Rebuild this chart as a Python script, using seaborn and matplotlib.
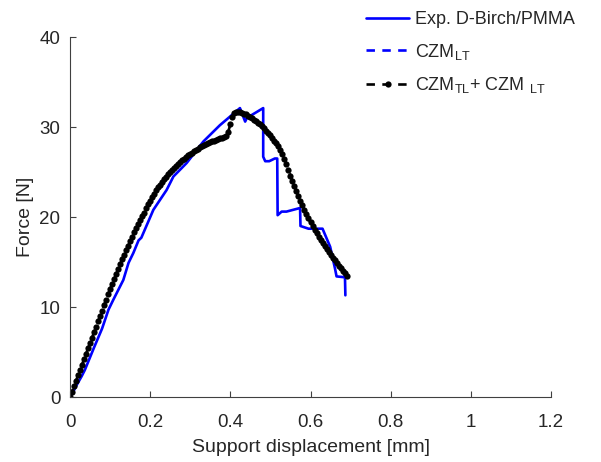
import matplotlib
matplotlib.use('Agg')
import numpy as np
import pandas as pd
import seaborn as sns
from matplotlib import pyplot as plt

# experimental curve (blue, solid)
disp_exp = [0, 0.006, 0.015, 0.029, 0.037, 0.06, 0.08, 0.096, 0.108, 0.133,
            0.146, 0.158, 0.171, 0.178, 0.208, 0.241, 0.258, 0.291, 0.333, 0.374,
            0.403, 0.424, 0.437, 0.441, 0.482, 0.482, 0.487, 0.497, 0.511, 0.517,
            0.518, 0.528, 0.540, 0.574, 0.575, 0.595, 0.630, 0.649, 0.661, 0.665,
            0.686, 0.687]
force_exp = [0, 0.4, 1.2, 2.3, 3.0, 5.5, 7.6, 9.7, 10.8, 13.0,
             14.9, 16.0, 17.4, 17.7, 20.8, 23.0, 24.5, 26.0, 28.4, 30.2,
             31.3, 32.1, 30.6, 31.0, 32.1, 26.7, 26.2, 26.2, 26.5, 26.5,
             20.2, 20.6, 20.6, 21.0, 19.0, 18.7, 18.7, 16.7, 14.3, 13.4,
             13.3, 11.3]

# CZM_TL + CZM_LT model (black, dashed with dots)
disp_czm = [0.000, 0.005, 0.010, 0.015, 0.020, 0.025, 0.030, 0.035, 0.040, 0.045,
            0.050, 0.055, 0.060, 0.065, 0.070, 0.075, 0.080, 0.085, 0.090, 0.095,
            0.100, 0.105, 0.110, 0.115, 0.120, 0.125, 0.130, 0.135, 0.140, 0.145,
            0.150, 0.155, 0.160, 0.165, 0.170, 0.175, 0.180, 0.185, 0.190, 0.195,
            0.200, 0.205, 0.210, 0.215, 0.220, 0.225, 0.230, 0.235, 0.240, 0.245,
            0.250, 0.255, 0.260, 0.265, 0.270, 0.275, 0.280, 0.285, 0.290, 0.295,
            0.300, 0.305, 0.310, 0.315, 0.320, 0.325, 0.330, 0.335, 0.340, 0.345,
            0.350, 0.355, 0.360, 0.365, 0.370, 0.375, 0.380, 0.385, 0.390, 0.395,
            0.400, 0.405, 0.410, 0.415, 0.420, 0.425, 0.430, 0.435, 0.440, 0.445,
            0.450, 0.455, 0.460, 0.465, 0.470, 0.475, 0.480, 0.485, 0.490, 0.495,
            0.500, 0.505, 0.510, 0.515, 0.520, 0.525, 0.530, 0.535, 0.540, 0.545,
            0.550, 0.555, 0.560, 0.565, 0.570, 0.575, 0.580, 0.585, 0.590, 0.595,
            0.600, 0.605, 0.610, 0.615, 0.620, 0.625, 0.630, 0.635, 0.640, 0.645,
            0.650, 0.655, 0.660, 0.665, 0.670, 0.675, 0.680, 0.685, 0.690]
force_czm = [0.0, 0.6, 1.2, 1.8, 2.4, 3.0, 3.6, 4.2, 4.8, 5.4,
             6.0, 6.6, 7.2, 7.8, 8.4, 9.0, 9.6, 10.2, 10.8, 11.4,
             12.0, 12.55, 13.1, 13.65, 14.2, 14.75, 15.3, 15.8, 16.3, 16.8,
             17.3, 17.8, 18.3, 18.75, 19.2, 19.65, 20.1, 20.5, 20.95, 21.4,
             21.8, 22.2, 22.6, 22.95, 23.3, 23.6, 23.9, 24.2, 24.5, 24.75,
             25.0, 25.25, 25.5, 25.7, 25.9, 26.1, 26.3, 26.5, 26.7, 26.85,
             27.0, 27.15, 27.3, 27.45, 27.6, 27.75, 27.9, 28.0, 28.1, 28.2,
             28.3, 28.4, 28.5, 28.6, 28.65, 28.75, 28.8, 28.9, 29.0, 29.5,
             30.3, 31.1, 31.6, 31.7, 31.7, 31.65, 31.6, 31.5, 31.4, 31.25,
             31.1, 30.95, 30.8, 30.65, 30.5, 30.3, 30.1, 29.85, 29.6, 29.35,
             29.1, 28.8, 28.5, 28.2, 27.9, 27.45, 27.0, 26.45, 25.9, 25.25,
             24.6, 24.0, 23.4, 22.85, 22.3, 21.8, 21.3, 20.8, 20.3, 19.85,
             19.4, 19.0, 18.6, 18.2, 17.8, 17.45, 17.1, 16.75, 16.4, 16.1,
             15.8, 15.5, 15.2, 14.9, 14.6, 14.3, 14.0, 13.75, 13.5]

x_ticks = [0, 0.2, 0.4, 0.6, 0.8, 1, 1.2]
x_ticklabels = ['0', '0.2', '0.4', '0.6', '0.8', '1', '1.2']
y_ticks = [0, 10, 20, 30, 40]

sns.set_style('white')
plt.rcParams['font.family'] = ['Liberation Sans', 'DejaVu Sans']
plt.rcParams['mathtext.fontset'] = 'custom'
plt.rcParams['mathtext.rm'] = 'Liberation Sans'
plt.rcParams['mathtext.it'] = 'Liberation Sans'

fig = plt.figure(figsize=(6.01, 4.62), dpi=100)
ax = fig.add_axes([70 / 601, 1 - 397 / 462, 481 / 601, 360 / 462])

dash = (0, (3.2, 2.8))
sns.lineplot(x=disp_exp, y=force_exp, color='#0000ff', lw=1.9, sort=False,
             estimator=None, ax=ax, label='Exp. D-Birch/PMMA')
ax.plot([], [], color='#0000ff', lw=1.9, linestyle=dash, label='CZM$_{\\mathrm{LT}}$')
sns.lineplot(x=disp_czm, y=force_czm, color='black', lw=1.9, linestyle=dash,
             marker='o', markersize=4.5, markeredgewidth=0, sort=False,
             estimator=None, ax=ax,
             label='CZM$_{\\mathrm{TL}}$+ CZM $_{\\mathrm{LT}}$')

ax.set_xlim(0, 1.2)
ax.set_ylim(0, 40)
ax.set_xticks(x_ticks)
ax.set_xticklabels(x_ticklabels)
ax.set_yticks(y_ticks)
ax.tick_params(direction='in', length=4, width=0.8, colors='#404040',
               labelcolor='#262626', labelsize=13.5, bottom=True, left=True)
ax.tick_params(axis='x', pad=12)
ax.tick_params(axis='y', pad=7)
for s in ['top', 'right']:
    ax.spines[s].set_visible(False)
for s in ['left', 'bottom']:
    ax.spines[s].set_color('#404040')
    ax.spines[s].set_linewidth(0.8)

ax.set_xlabel('Support displacement [mm]', fontsize=14, color='#262626', labelpad=6)
ax.set_ylabel('Force [N]', fontsize=14, color='#262626', labelpad=4)

ax.legend(loc='upper left', bbox_to_anchor=(366 / 601, 1 - 11 / 462),
          bbox_transform=fig.transFigure, frameon=False, fontsize=13,
          handlelength=2.4, handletextpad=0.3, labelspacing=0.75,
          borderpad=0, borderaxespad=0, numpoints=1)

fig.savefig('out.png', dpi=100)
